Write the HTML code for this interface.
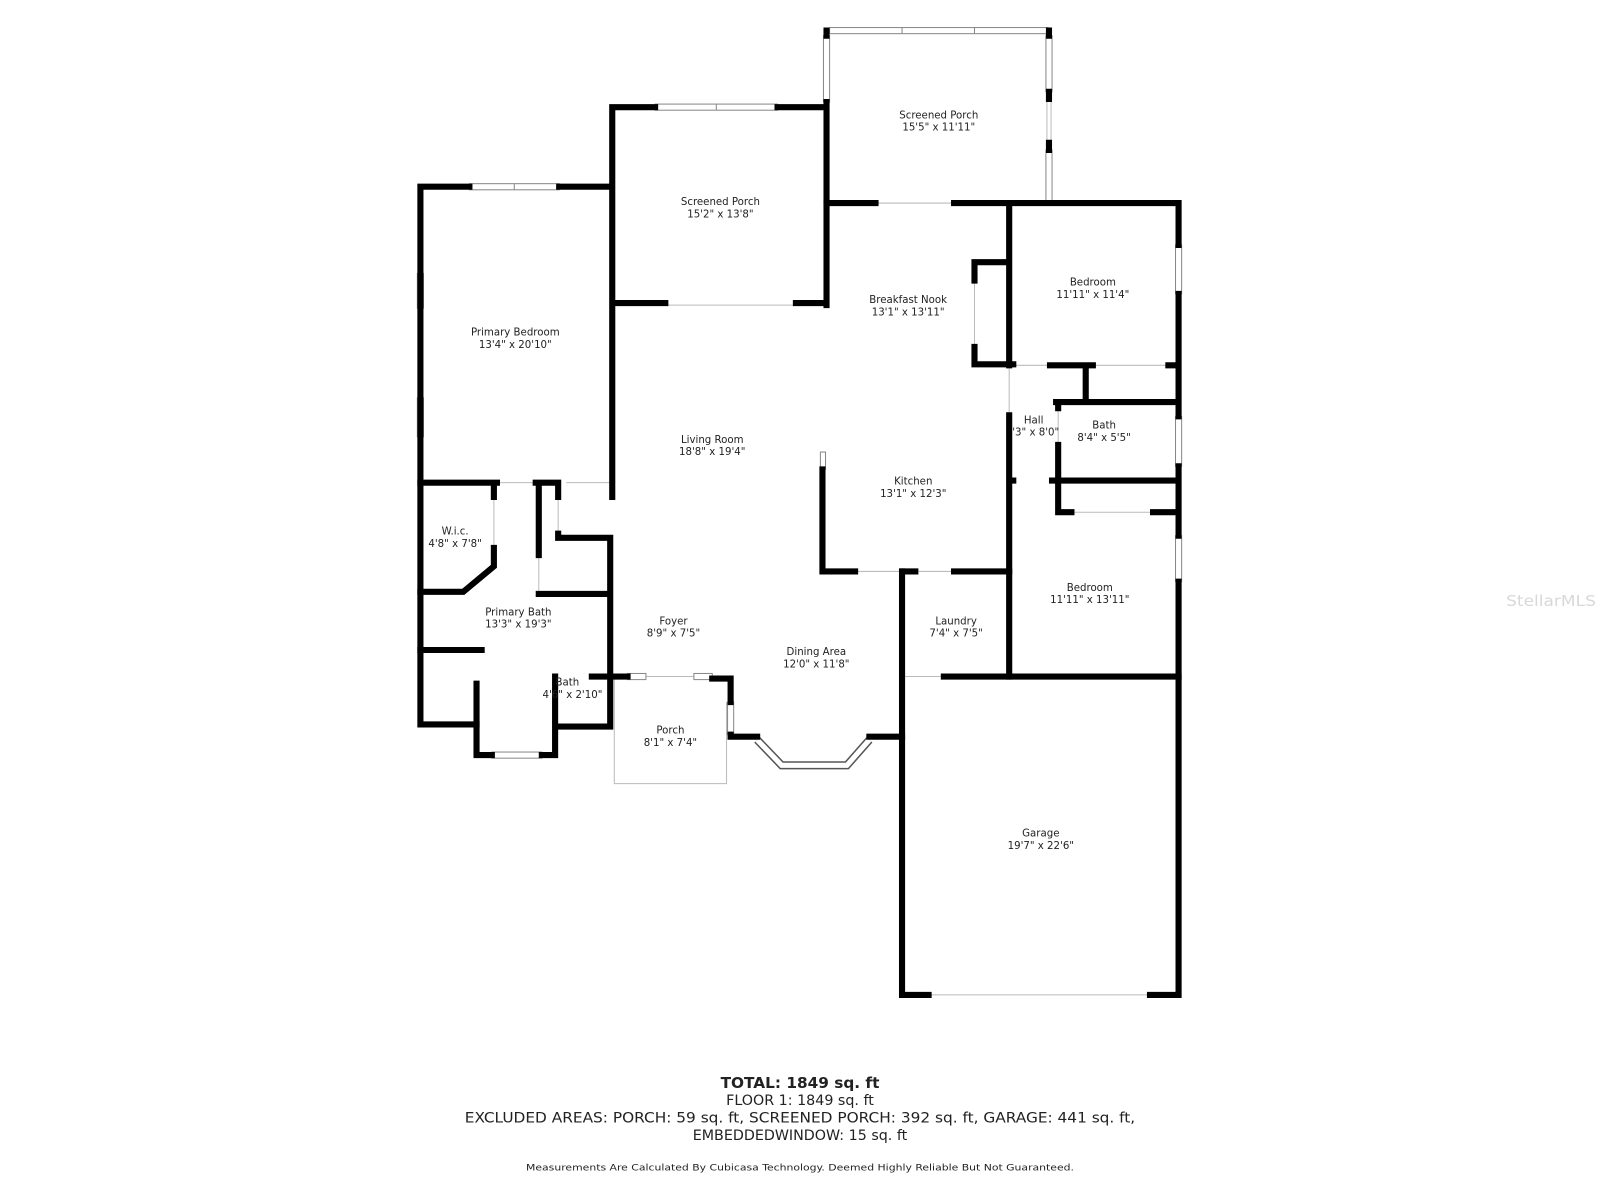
<!DOCTYPE html>
<html><head><meta charset="utf-8"><style>
html,body{margin:0;padding:0;background:#fff;}
svg{display:block}
text{font-family:"DejaVu Sans","Liberation Sans",sans-serif;fill:#222;text-anchor:middle}
.r{font-size:10px}
.w{stroke:#000;stroke-width:6;fill:none;stroke-linecap:square}
.t{stroke:#bbb;stroke-width:1;fill:none}
.win{fill:#fff;stroke:#888;stroke-width:1}
</style></head><body>
<svg width="1600" height="1200" viewBox="0 0 1568 1176" xmlns="http://www.w3.org/2000/svg">
<g class="t">
<path d="M652 299H780 M858 199H935 M487 473H525 M555 473H598 M838 560H885 M897 560H935 M884 663H925 M910 975H1127 M993 358H1029 M1071 358H1145 M1050 502H1130 M602 663V768H712V688 M615 663H698 M484 487V537 M528 544V580 M547 487V523 M955 275V340 M989 360V407 M1037 400V436 M1026 100V140 M1030 100V140"/>
</g>
<g class="win">
<rect x="460" y="180" width="88" height="6"/><line x1="504" y1="180" x2="504" y2="186"/>
<rect x="642" y="102" width="120" height="6"/><line x1="702" y1="102" x2="702" y2="108"/>
<rect x="813" y="27" width="214" height="6"/><line x1="884" y1="27" x2="884" y2="33"/><line x1="955" y1="27" x2="955" y2="33"/>
<rect x="807" y="35" width="6" height="65"/>
<rect x="1025" y="35" width="6" height="55"/>
<rect x="1025" y="147" width="6" height="50"/>
<rect x="409" y="268" width="6" height="34"/>
<rect x="409" y="390" width="6" height="38"/>
<rect x="1152" y="240" width="6" height="48"/>
<rect x="1152" y="408" width="6" height="49"/>
<rect x="1152" y="525" width="6" height="45"/>
<rect x="482" y="737" width="49" height="6"/>
<rect x="615" y="660" width="18" height="6"/>
<rect x="680" y="660" width="18" height="6"/>
<rect x="713" y="688" width="6" height="32"/>
<rect x="804" y="443" width="5" height="17"/>
<path d="M742 725 L766 750 L830 750 L852 725" stroke="#555" stroke-width="8" fill="none"/>
<path d="M742 725 L766 750 L830 750 L852 725" stroke="#fff" stroke-width="5" fill="none"/>
</g>
<g class="w">
<path d="M412 186V710H467 M412 183H460 M548 183H600 M600 105H642 M762 105H810 M600 105V487 M600 297H652 M780 297H810 M810 30V35 M810 100V299 M1028 30V35 M1028 90V97 M1028 140V147"/>
<path d="M810 199H858 M935 199H1155V240 M1155 288V408 M1155 457V525 M1155 570V975H1127 M910 975H884V560"/>
<path d="M989 199V358 M989 407V663 M955 257H989 M955 257V275 M955 340V357H993 M1029 358H1071 M1145 358H1152 M1064 358V394 M1035 394H1152 M1037 394V400 M1037 436V502H1050 M1130 502H1152 M1031 471H1152 M989 471H993"/>
<path d="M806 460V560H838 M885 560H897 M935 560H989 M925 663H1155 M884 722H852 M742 722H716V720 M716 688V665H698 M615 663H600"/>
<path d="M412 473H487 M525 473H547 M484 473V487 M484 537V555L454 580H412 M528 473V544 M528 582H598 M547 473V487 M547 523V527H598 M598 527V712H544V663 M598 663H580 M412 637H472 M467 670V740H482 M531 740H544V712"/>
</g>
<g class="r">
<text x="505" y="329">Primary Bedroom</text><text x="505" y="341">13'4" x 20'10"</text>
<text x="706" y="201">Screened Porch</text><text x="706" y="213">15'2" x 13'8"</text>
<text x="920" y="116">Screened Porch</text><text x="920" y="128">15'5" x 11'11"</text>
<text x="890" y="297">Breakfast Nook</text><text x="890" y="309">13'1" x 13'11"</text>
<text x="1071" y="280">Bedroom</text><text x="1071" y="292">11'11" x 11'4"</text>
<text x="698" y="434">Living Room</text><text x="698" y="446">18'8" x 19'4"</text>
<text x="895" y="475">Kitchen</text><text x="895" y="487">13'1" x 12'3"</text>
<text x="1013" y="415">Hall</text><text x="1015" y="427">'3" x 8'0"</text>
<text x="1082" y="420">Bath</text><text x="1082" y="432">8'4" x 5'5"</text>
<text x="446" y="524">W.i.c.</text><text x="446" y="536">4'8" x 7'8"</text>
<text x="508" y="603">Primary Bath</text><text x="508" y="615">13'3" x 19'3"</text>
<text x="660" y="612">Foyer</text><text x="660" y="624">8'9" x 7'5"</text>
<text x="800" y="642">Dining Area</text><text x="800" y="654">12'0" x 11'8"</text>
<text x="937" y="612">Laundry</text><text x="937" y="624">7'4" x 7'5"</text>
<text x="1068" y="579">Bedroom</text><text x="1068" y="591">11'11" x 13'11"</text>
<text x="556" y="672">Bath</text><text x="561" y="684">4'6" x 2'10"</text>
<text x="657" y="719">Porch</text><text x="657" y="731">8'1" x 7'4"</text>
<text x="1020" y="820">Garage</text><text x="1020" y="832">19'7" x 22'6"</text>
</g>
<text x="1520" y="594" style="font-size:15px;fill:#d8d8d8" textLength="88" lengthAdjust="spacingAndGlyphs">StellarMLS</text>
<text x="784" y="1066" style="font-size:15px;font-weight:bold">TOTAL: 1849 sq. ft</text>
<text x="784" y="1083" style="font-size:14px">FLOOR 1: 1849 sq. ft</text>
<text x="784" y="1100" style="font-size:14px" textLength="657" lengthAdjust="spacingAndGlyphs">EXCLUDED AREAS: PORCH: 59 sq. ft, SCREENED PORCH: 392 sq. ft, GARAGE: 441 sq. ft,</text>
<text x="784" y="1117" style="font-size:14px">EMBEDDEDWINDOW: 15 sq. ft</text>
<text x="784" y="1147" style="font-size:9px" textLength="537" lengthAdjust="spacingAndGlyphs">Measurements Are Calculated By Cubicasa Technology. Deemed Highly Reliable But Not Guaranteed.</text>
</svg>
</body></html>
